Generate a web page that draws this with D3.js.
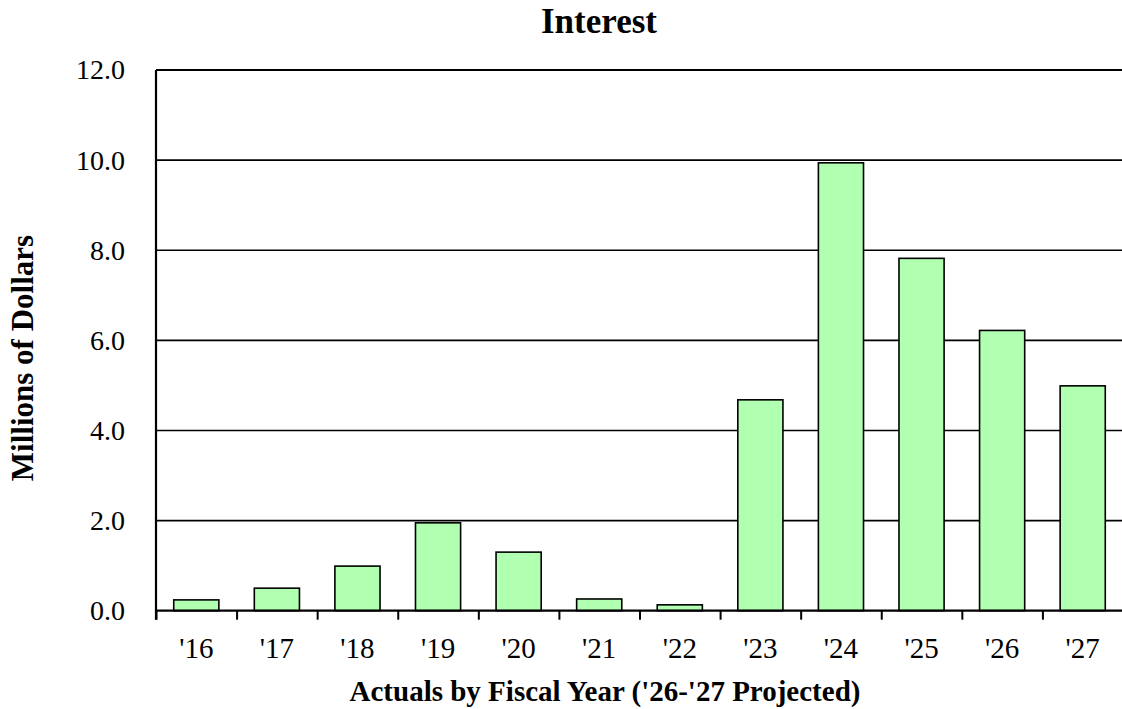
<!DOCTYPE html>
<html><head><meta charset="utf-8">
<script src="https://cdn.jsdelivr.net/npm/d3@7"></script>
<style>body{margin:0;background:#fff}svg{display:block}</style>
</head><body>
<script>
const categories = ["'16","'17","'18","'19","'20","'21","'22","'23","'24","'25","'26","'27"];
const values = [0.24, 0.50, 0.99, 1.95, 1.30, 0.26, 0.13, 4.68, 9.94, 7.82, 6.22, 4.99];
const yTicks = [0, 2, 4, 6, 8, 10, 12];
const title = "Interest";
const xTitle = "Actuals by Fiscal Year ('26-'27 Projected)";
const yTitle = "Millions of Dollars";

const W = 1122, H = 709;
const font = "'Liberation Serif','Times New Roman',serif";
const svg = d3.select("body").append("svg").attr("width", W).attr("height", H);

const x = d3.scaleBand().domain(categories).range([156, 1123]).paddingInner(0.44).paddingOuter(0.22);
const y = d3.scaleLinear().domain([0, 12]).range([610.7, 70]);

// gridlines
svg.append("g").selectAll("line").data(yTicks.filter(d => d > 0)).join("line")
  .attr("x1", 156).attr("x2", W).attr("y1", d => y(d)).attr("y2", d => y(d))
  .attr("stroke", "#000").attr("stroke-width", d => d === 12 ? 2.2 : 1.6);

// bars
svg.append("g").selectAll("rect").data(values).join("rect")
  .attr("x", (d, i) => x(categories[i]))
  .attr("width", x.bandwidth())
  .attr("y", d => y(d))
  .attr("height", d => y(0) - y(d))
  .attr("fill", "#b1ffb1").attr("stroke", "#000").attr("stroke-width", 1.6);

// x axis
const xb = d3.scaleLinear().domain([0, 12]).range([156, 1123]);
const xAxis = svg.append("g").attr("transform", `translate(0,${y(0)})`)
  .call(d3.axisBottom(xb).tickValues(d3.range(0, 13)).tickSize(9).tickFormat(""));
xAxis.select(".domain").attr("stroke-width", 2.2).attr("d", `M156,0H${W}`);
xAxis.selectAll(".tick line").attr("stroke-width", 2);
svg.append("g").selectAll("text").data(categories).join("text")
  .attr("x", d => x(d) + x.bandwidth() / 2).attr("y", 658)
  .attr("text-anchor", "middle").attr("font-family", font).attr("font-size", 29)
  .text(d => d);

// y axis
const yAxis = svg.append("g").attr("transform", "translate(156,0)")
  .call(d3.axisLeft(y).tickValues(yTicks).tickSize(0).tickPadding(31).tickFormat(d3.format(".1f")));
yAxis.select(".domain").attr("stroke-width", 2.2).attr("d", `M0,${y(12)}V${y(0) + 9}`);
yAxis.selectAll("text").attr("font-family", font).attr("font-size", 28).attr("fill", "#000");

// titles
svg.append("text").attr("x", 599).attr("y", 33).attr("text-anchor", "middle")
  .attr("font-family", font).attr("font-weight", "bold").attr("font-size", 35).text(title);
svg.append("text").attr("x", 605).attr("y", 701).attr("text-anchor", "middle")
  .attr("font-family", font).attr("font-weight", "bold").attr("font-size", 29).text(xTitle);
svg.append("text").attr("transform", "translate(33,358) rotate(-90)").attr("text-anchor", "middle")
  .attr("font-family", font).attr("font-weight", "bold").attr("font-size", 31).text(yTitle);
</script>
</body></html>
